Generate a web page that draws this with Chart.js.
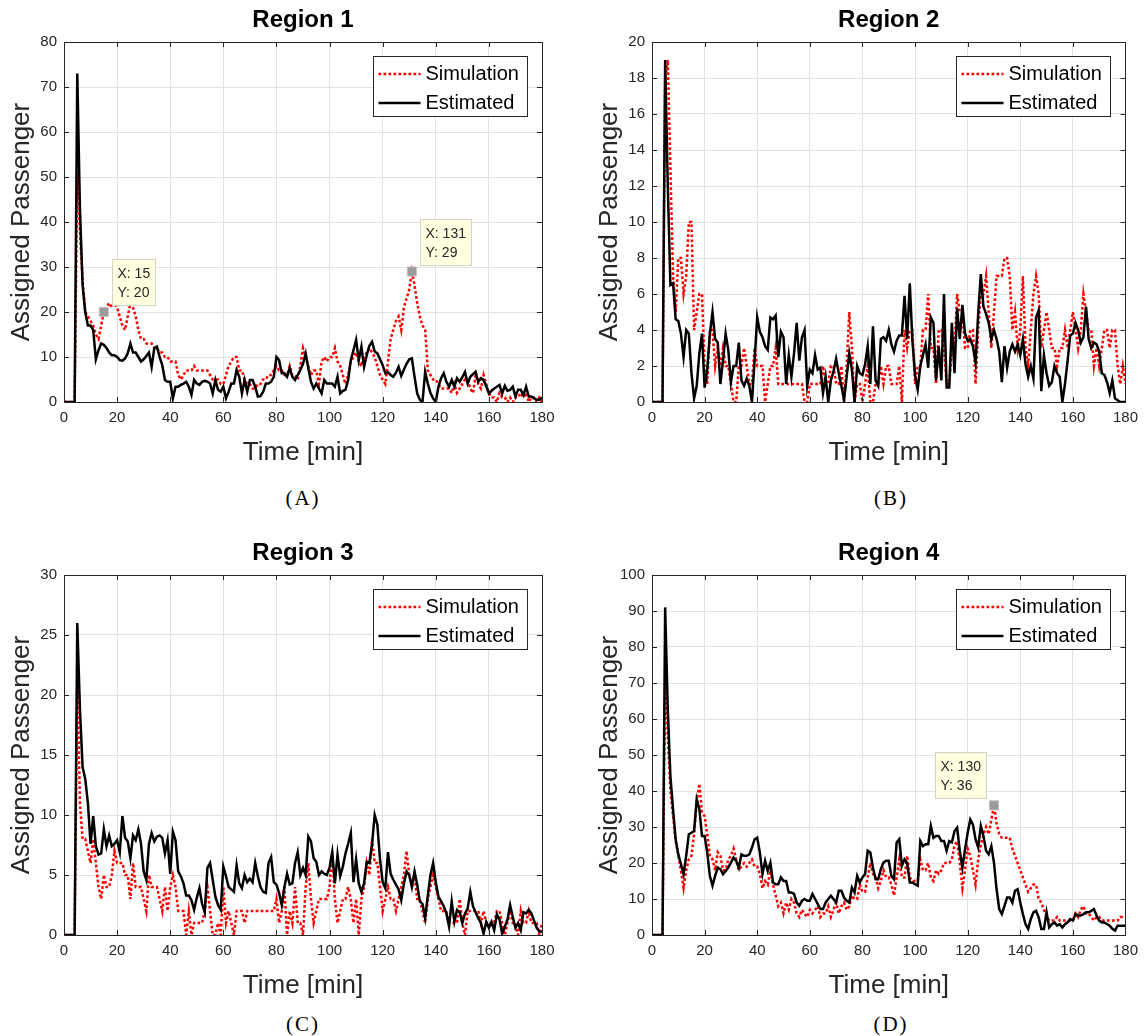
<!DOCTYPE html>
<html>
<head>
<meta charset="utf-8">
<title>Assigned passengers per region</title>
<script src="https://cdn.jsdelivr.net/npm/chart.js@4.4.0/dist/chart.umd.min.js"></script>
<style>
    body { margin: 0; background: #fff; width: 1145px; height: 1036px; position: relative; overflow: hidden; }
    canvas { position: absolute; }
    .caption {
        position: absolute;
        transform: translate(-50%, -50%);
        font-family: "Liberation Serif", "DejaVu Serif", serif;
        font-size: 21px;
        letter-spacing: 2px;
        color: #000;
    }
</style>
</head>
<body>
<canvas id="region1" width="565" height="470" style="left:0px;top:0px"></canvas>
<canvas id="region2" width="557" height="470" style="left:588px;top:0px"></canvas>
<canvas id="region3" width="565" height="470" style="left:0px;top:533px"></canvas>
<canvas id="region4" width="557" height="470" style="left:588px;top:533px"></canvas>
<div class="caption" style="left:303px;top:498px">(A)</div>
<div class="caption" style="left:891px;top:498px">(B)</div>
<div class="caption" style="left:303px;top:1024px">(C)</div>
<div class="caption" style="left:891px;top:1024px">(D)</div>

<script>
// time axis, one sample per minute
const minutes = Array.from({ length: 181 }, (_, i) => i);
const xTickStep = 20;

// Region 1
const sim1 = [
    0, 0, 0, 0, 0, 51, 38, 27, 20, 19,
    18, 17, 15, 14, 17, 20, 21, 22, 21, 22,
    21, 19, 17, 16, 19, 22, 21, 19, 16, 14,
    14, 13, 13, 13, 12, 12, 11, 11, 10, 10,
    9, 9, 9, 6, 5, 6, 7, 7, 7, 8,
    7, 7, 7, 7, 7, 6, 5, 5, 5, 4,
    4, 6, 8, 9, 10, 10, 7, 7, 5, 4,
    4, 3, 3, 4, 4, 5, 5, 6, 6, 7,
    8, 7, 7, 6, 6, 8, 6, 6, 5, 8,
    12, 10, 8, 6, 7, 7, 4, 9, 10, 9,
    10, 10, 12, 9, 8, 6, 4, 6, 9, 10,
    11, 9, 8, 10, 11, 12, 11, 10, 8, 6,
    5, 4, 9, 14, 16, 18, 19, 16, 21, 23,
    25, 29, 26, 22, 19, 17, 16, 7, 6, 5,
    5, 4, 3, 3, 3, 3, 2, 4, 2, 3,
    4, 5, 5, 3, 2, 6, 4, 3, 6, 4,
    2, 1, 1, 0, 2, 1, 1, 0, 1, 0,
    1, 1, 2, 1, 2, 0, 1, 1, 0, 1, 0
];
const est1 = [
    0, 0, 0, 0, 0, 73, 43, 26, 20, 17,
    17, 16, 9.5, 11.5, 13, 12.7, 12, 11, 10.4, 10.4,
    10, 9.3, 9.2, 9.7, 10.8, 13, 11, 11, 10, 9,
    9.5, 10.2, 11, 7.8, 12, 12.3, 10, 8.2, 4.9, 4.5,
    4.5, 0.8, 3.4, 3.4, 3.8, 4.1, 4.5, 3.4, 1.6, 4.9,
    4.1, 3.8, 4.5, 4.7, 4.5, 4.1, 1.9, 4.9, 2.7, 2.3,
    3.4, 0.8, 2.3, 4.1, 4.1, 7.1, 5.6, 1.9, 4.9, 2.3,
    4.9, 4.9, 3.4, 1.2, 1.3, 2.3, 4.1, 4.1, 4.5, 5.6,
    10, 9.3, 6.4, 6.4, 5.6, 7.5, 5.6, 4.9, 6, 7.1,
    8.5, 10.8, 7.5, 4.5, 3, 4.1, 3, 1.9, 4.9, 4.1,
    4.1, 4.1, 3.4, 5.6, 1.9, 2.5, 2.7, 4.9, 9.3, 11.5,
    13.8, 9.3, 12.3, 7.8, 10.4, 12.5, 13.4, 11.2, 10.8, 9.5,
    8.2, 6.4, 6.6, 6, 5.6, 6.5, 7.8, 5.8, 7.2, 8.5,
    9.5, 9.7, 5.6, 1.9, 0.5, 0, 6.7, 4.1, 2, 0.8,
    0, 3.4, 5.3, 6.4, 4.5, 3.4, 4.9, 3.4, 5.3, 4.5,
    5.5, 6.7, 4.1, 5.6, 6.2, 6.7, 4.5, 5.3, 4.9, 3.5,
    1.9, 2.5, 3, 3.4, 3.8, 1.9, 3.6, 2.5, 2.7, 3.4,
    1.2, 2.7, 2.7, 1.5, 3.4, 1.2, 1.2, 0.8, 0.5, 0.5, 1
];
const tips1 = [
    { x: 15, y: 20, side: 'right' },
    { x: 131, y: 29, side: 'right' }
];

// Region 2
const sim2 = [
    0, 0, 0, 0, 0, 18, 19, 13, 7, 5,
    8, 8, 6, 7, 10, 10, 4, 5, 6, 6,
    2, 1, 4, 4, 2, 3, 2, 3, 2, 2,
    1, 0, 0, 2, 2, 3, 2, 1, 1, 3,
    2, 2, 2, 0, 1, 2, 2, 3, 1, 1,
    1, 1, 1, 1, 1, 1, 1, 1, 0, 0,
    1, 1, 1, 1, 1, 2, 1, 1, 2, 2,
    1, 1, 2, 0, 2, 5, 3, 0, 1, 1,
    0, 1, 2, 0, 0, 1, 1, 2, 1, 2,
    2, 1, 1, 1, 2, 0, 4, 3, 4, 4,
    1, 2, 2, 4, 4, 6, 3, 3, 1, 4,
    4, 3, 1, 1, 3, 3, 6, 5, 5, 3,
    3, 4, 4, 1, 4, 6, 6, 7, 5, 3,
    5, 7, 7, 7, 8, 8, 7, 4, 5, 3,
    4, 7, 3, 2, 4, 6, 7, 6, 3, 4,
    5, 4, 3, 3, 2, 3, 3, 4, 3, 4,
    5, 4, 3, 4, 6, 5, 4, 4, 2, 3,
    2, 3, 4, 4, 3, 4, 4, 2, 1, 2, 1
];
const est2 = [
    0, 0, 0, 0, 0, 19, 12, 6.5, 6.6, 4.6,
    4.5, 3.8, 2.5, 4, 3.8, 1.6, 0.2, 0.9, 2.7, 3.8,
    0.8, 1.8, 3.8, 5, 3.5, 3.3, 1, 2.3, 3.8, 2.9,
    1.1, 2, 2, 3.3, 1.2, 0.9, 1.3, 0.9, 0, 2.3,
    4.7, 3.9, 3.6, 3.1, 2.9, 4.7, 4.6, 4.8, 2.5, 3.9,
    3.6, 1, 2.6, 1.4, 2.7, 4.4, 2.3, 3.6, 4, 0.9,
    1.8, 1.6, 2.6, 1.8, 1.9, 0.5, 1.4, 0, 1.2, 1.7,
    2.4, 1.6, 0.9, 0.1, 1.4, 2.7, 1.8, 0, 2, 1.6,
    1.5, 2.1, 3.1, 1, 4.2, 1.2, 0.9, 3.5, 3.6, 3.4,
    4, 3.2, 2.8, 3.4, 3.7, 3.7, 5.9, 3.5, 6.6, 3.4,
    1.5, 0.7, 2, 2.6, 3.2, 1.9, 4.7, 4.4, 1.2, 3.1,
    1.2, 6, 0.8, 0.8, 4.4, 1.6, 5.2, 3.5, 5.4, 3.8,
    3.4, 3.5, 3.1, 2.2, 4.9, 7.1, 5.3, 4.9, 4.4, 3.5,
    4, 3.5, 2.8, 1.1, 3.1, 1.9, 2.8, 3.2, 2.8, 3.2,
    2.6, 3.5, 2.1, 1.4, 2, 1.3, 4.7, 5.1, 0.6, 2.6,
    1.6, 0.9, 1.1, 2, 1.6, 1.4, 0, 1, 2.3, 3.7,
    3.8, 4.4, 4, 3.3, 3.6, 5.3, 3.5, 3, 3.3, 3.2,
    2.8, 1.6, 1.5, 1.1, 0.5, 1.2, 0.2, 0.1, 0, 0, 0
];
const tips2 = [];

// Region 3
const sim3 = [
    0, 0, 0, 0, 0, 22, 11, 8, 8, 7,
    6, 8, 6, 4, 3, 5, 4, 4, 5, 7,
    6, 6, 6, 5, 5, 3, 6, 4, 4, 4,
    3, 2, 5, 4, 4, 4, 3, 2, 4, 2,
    4, 5, 4, 2, 2, 2, 0, 2, 0, 1,
    1, 1, 1, 2, 4, 2, 0, 0, 1, 0,
    4, 1, 2, 1, 0, 2, 2, 2, 1, 2,
    2, 2, 2, 2, 2, 2, 2, 2, 2, 2,
    3, 1, 2, 4, 0, 2, 1, 4, 1, 1,
    0, 4, 6, 3, 1, 2, 3, 3, 3, 3,
    4, 7, 3, 1, 2, 3, 3, 4, 3, 1,
    3, 0, 3, 4, 6, 5, 8, 6, 6, 4,
    2, 3, 4, 3, 3, 2, 3, 4, 5, 7,
    5, 4, 5, 3, 3, 2, 1, 3, 4, 5,
    4, 3, 2, 2, 2, 1, 1, 1, 1, 3,
    1, 0, 2, 2, 2, 2, 2, 1, 2, 1,
    1, 1, 1, 2, 2, 1, 0, 1, 2, 1,
    1, 0, 2, 1, 1, 2, 1, 1, 1, 0, 1
];
const est3 = [
    0, 0, 0, 0, 0, 26, 18.8, 14, 13, 11,
    7.6, 9.9, 7.4, 6.7, 6.8, 8.8, 7.4, 8.3, 7.4, 7.6,
    7.9, 6.9, 9.9, 8.1, 7.8, 6.4, 8.3, 7.9, 8.8, 7.6,
    5.3, 4.6, 7.6, 8.5, 7.8, 8.2, 8.3, 8.1, 6.8, 7.9,
    5.1, 8.6, 7.9, 5.3, 4.9, 4.3, 3.3, 3.3, 2.9, 2.1,
    3.1, 3.9, 2.6, 1.9, 5.6, 6, 4.6, 3.2, 2.5, 2.1,
    5.7, 4.9, 4, 3.8, 3.6, 5.8, 4.3, 3.9, 5, 4.4,
    4.7, 4.4, 6, 4.9, 4, 3.6, 3.5, 6, 6.5, 4.4,
    4.2, 3.5, 2.5, 4, 5.1, 4.2, 4.3, 6, 6.9, 5,
    5.6, 5, 8.2, 7.8, 6.4, 6.1, 5, 5.3, 5.1, 5,
    5.6, 6.9, 4.3, 6.7, 4.9, 5.7, 6.8, 7.6, 8.5, 4.4,
    6.3, 4.3, 3.6, 4.3, 6.1, 6, 7.6, 10, 9.2, 6.3,
    4.4, 3.9, 6.9, 5.1, 4.6, 4.2, 3.8, 2.9, 4.3, 5.3,
    5, 4, 5.3, 4.2, 2.8, 2.6, 1.4, 3.3, 5, 6,
    4.4, 3.2, 2.8, 2.4, 1.8, 0.7, 2.8, 1.1, 2.1, 1.9,
    1, 1.8, 2.2, 3.6, 2.4, 1.9, 1.4, 1, 0.1, 1.1,
    0.6, 1.1, 0.4, 1.7, 1.3, 0.1, 0.7, 1.3, 2.5, 1.5,
    0.6, 1, 0.4, 1.9, 1.8, 2.1, 1.8, 1.2, 0.6, 0.3, 0.3
];
const tips3 = [];

// Region 4
const sim4 = [
    0, 0, 0, 0, 0, 74, 55, 40, 33, 26,
    22, 18, 13, 18, 21, 22, 28, 37, 42, 34,
    33, 28, 22, 21, 18, 23, 22, 18, 18, 21,
    22, 24, 21, 18, 19, 20, 19, 20, 21, 19,
    19, 17, 13, 15, 14, 18, 14, 11, 8, 9,
    6, 9, 7, 10, 9, 6, 5, 7, 6, 5,
    7, 6, 7, 8, 5, 6, 6, 8, 5, 7,
    9, 6, 8, 9, 7, 8, 11, 10, 10, 14,
    12, 12, 16, 20, 17, 16, 13, 15, 18, 16,
    16, 14, 11, 16, 21, 16, 16, 22, 16, 15,
    15, 15, 21, 18, 18, 20, 16, 15, 18, 17,
    18, 20, 20, 20, 21, 25, 26, 20, 13, 18,
    24, 22, 18, 14, 21, 25, 28, 30, 28, 32,
    36, 31, 28, 27, 27, 27, 27, 24, 22, 20,
    18, 16, 14, 12, 13, 14, 14, 10, 9, 7,
    5, 4, 4, 4, 5, 4, 4, 4, 4, 4,
    4, 6, 5, 7, 8, 6, 6, 5, 4, 5,
    5, 4, 4, 4, 4, 4, 4, 4, 5, 5, 5
];
const est4 = [
    0, 0, 0, 0, 0, 91, 62.6, 44, 35, 26.6,
    22.4, 19.7, 16.9, 22, 28, 28.4, 28.9, 37.7, 35, 27.5,
    27.5, 22.9, 16.4, 13.7, 16.4, 18.7, 18.3, 16.9, 17.8, 18.7,
    20.1, 21.5, 20.6, 18.7, 22.4, 22, 22, 22.4, 24.3, 26.6,
    27, 22.9, 16.9, 20.6, 17.8, 20.1, 14.6, 14.1, 14.1, 16,
    15, 15, 11.8, 11.8, 11.4, 9, 8.1, 9.5, 10, 9.5,
    9.5, 11.4, 10, 8.6, 7.2, 7.2, 9, 10, 10.9, 10,
    9, 12.3, 12.3, 10.4, 9.5, 9, 13.2, 11.8, 16.4, 14.6,
    16, 16.9, 23.4, 22.9, 18.7, 15.5, 15.5, 18.3, 20.1, 20.6,
    20.6, 16.4, 15.5, 25.7, 26.6, 19.2, 21, 20, 14.6, 14.6,
    14.1, 13.7, 26.1, 24.7, 25.2, 25.2, 30.3, 27, 27.5, 27.5,
    26.1, 26.1, 23.4, 26.1, 25.7, 28.9, 29.8, 23.4, 18.7, 23.8,
    28.4, 32.1, 30.7, 26.6, 24.3, 30.3, 27.5, 23.4, 22.4, 24.7,
    20.1, 12.7, 7.2, 5.8, 8.1, 10.4, 10.4, 9, 12.3, 12.7,
    9, 5.8, 3, 1.7, 4.4, 6.3, 6.7, 4.9, 1.7, 1.7,
    6.3, 2.1, 3, 3.5, 2.6, 3, 2.1, 3, 3.5, 4.4,
    4, 5.8, 5.4, 5.4, 5.8, 6.3, 6.3, 6.7, 7.2, 5.4,
    4, 3.5, 3.5, 3, 2.6, 1.7, 1.2, 2.6, 2.6, 2.6, 2.6
];
const tips4 = [
    { x: 130, y: 36, side: 'left' }
];

const FONT = '"Liberation Sans", Arial, Helvetica, sans-serif';
const AXIS_COLOR = '#262626';
const GRID_COLOR = '#e2e2e2';

Chart.defaults.font.family = FONT;
Chart.defaults.color = AXIS_COLOR;

// MATLAB-like axes box with inward ticks on all four sides
const axesBox = {
    id: 'axesBox',
    afterDatasetsDraw(chart) {
        const { ctx, chartArea: a, scales: { x, y } } = chart;
        ctx.save();
        ctx.strokeStyle = AXIS_COLOR;
        ctx.lineWidth = 1;
        ctx.beginPath();
        x.ticks.forEach(t => {
            const px = Math.round(x.getPixelForValue(t.value)) + 0.5;
            ctx.moveTo(px, a.bottom);
            ctx.lineTo(px, a.bottom - 5);
            ctx.moveTo(px, a.top);
            ctx.lineTo(px, a.top + 5);
        });
        y.ticks.forEach(t => {
            const py = Math.round(y.getPixelForValue(t.value)) + 0.5;
            ctx.moveTo(a.left, py);
            ctx.lineTo(a.left + 5, py);
            ctx.moveTo(a.right, py);
            ctx.lineTo(a.right - 5, py);
        });
        ctx.stroke();
        ctx.strokeRect(Math.round(a.left) + 0.5, Math.round(a.top) + 0.5,
            Math.round(a.right - a.left), Math.round(a.bottom - a.top));
        ctx.restore();
    }
};

// boxed legend in the upper right corner of the axes
const boxLegend = {
    id: 'boxLegend',
    afterDraw(chart) {
        const { ctx, chartArea: a } = chart;
        const w = 154, h = 60;
        const left = Math.round(a.right - 15 - w) + 0.5;
        const top = Math.round(a.top + 14) + 0.5;
        ctx.save();
        ctx.fillStyle = '#fff';
        ctx.fillRect(left, top, w, h);
        ctx.strokeStyle = AXIS_COLOR;
        ctx.lineWidth = 1;
        ctx.strokeRect(left, top, w, h);
        chart.data.datasets.filter(d => d.inLegend).forEach((d, i) => {
            const cy = top + 17.5 + i * 29;
            ctx.beginPath();
            ctx.strokeStyle = d.borderColor;
            ctx.lineWidth = d.borderWidth;
            ctx.setLineDash(d.borderDash || []);
            ctx.moveTo(left + 5, cy);
            ctx.lineTo(left + 47, cy);
            ctx.stroke();
            ctx.setLineDash([]);
            ctx.fillStyle = '#000';
            ctx.font = '20px ' + FONT;
            ctx.textBaseline = 'middle';
            ctx.textAlign = 'left';
            ctx.fillText(d.label, left + 52, cy);
        });
        ctx.restore();
    }
};

// data tip boxes next to the marked points
function dataTips(tips) {
    return {
        id: 'dataTips',
        afterDraw(chart) {
            const { ctx, scales: { x, y } } = chart;
            ctx.save();
            ctx.font = '14px ' + FONT;
            tips.forEach(tip => {
                const px = x.getPixelForValue(tip.x);
                const py = y.getPixelForValue(tip.y);
                const lines = ['X: ' + tip.x, 'Y: ' + tip.y];
                const w = Math.ceil(Math.max(...lines.map(s => ctx.measureText(s).width))) + 10;
                const h = 46;
                const left = Math.round(tip.side === 'left' ? px - 8 - w : px + 8) + 0.5;
                const top = Math.round(py - 7 - h) + 0.5;
                ctx.fillStyle = '#ffffe1';
                ctx.fillRect(left, top, w, h);
                ctx.strokeStyle = '#d4d4c4';
                ctx.lineWidth = 1;
                ctx.strokeRect(left, top, w, h);
                ctx.fillStyle = AXIS_COLOR;
                ctx.textBaseline = 'middle';
                ctx.textAlign = 'left';
                ctx.fillText(lines[0], left + 5, top + 15);
                ctx.fillText(lines[1], left + 5, top + 34);
            });
            ctx.restore();
        }
    };
}

function makeRegionChart(canvasId, title, sim, est, tips, yMax, yStep, rightPad) {
    const canvas = document.getElementById(canvasId);
    if (!canvas) {
        console.warn('Canvas not found: ' + canvasId);
        return null;
    }

    return new Chart(canvas.getContext('2d'), {
        type: 'line',
        data: {
            labels: minutes,
            datasets: [
                {
                    label: 'Simulation',
                    data: sim,
                    borderColor: '#ff0000',
                    borderWidth: 2.5,
                    borderDash: [2.7, 2.3],
                    pointRadius: 0,
                    tension: 0,
                    inLegend: true,
                    order: 2
                },
                {
                    label: 'Estimated',
                    data: est,
                    borderColor: '#000000',
                    borderWidth: 2.5,
                    pointRadius: 0,
                    tension: 0,
                    inLegend: true,
                    order: 1
                },
                {
                    type: 'scatter',
                    label: 'Data tip',
                    data: tips.map(t => ({ x: t.x, y: t.y })),
                    pointStyle: 'rect',
                    pointRadius: 6.5,
                    backgroundColor: '#9b9b9b',
                    borderColor: '#c4c4c4',
                    borderWidth: 1,
                    order: 0
                }
            ]
        },
        options: {
            responsive: false,
            animation: false,
            devicePixelRatio: 1,
            layout: { padding: { left: 0, right: rightPad, top: 0, bottom: 0 } },
            plugins: {
                legend: { display: false },
                tooltip: { enabled: false },
                title: {
                    display: true,
                    text: title,
                    color: '#000',
                    fullSize: false,
                    font: { size: 24, weight: 'bold' },
                    padding: { top: 6, bottom: 7.2 }
                }
            },
            scales: {
                x: {
                    type: 'linear',
                    min: 0,
                    max: 180,
                    grid: { color: GRID_COLOR, drawTicks: false },
                    border: { display: false },
                    ticks: {
                        stepSize: xTickStep,
                        autoSkip: false,
                        maxRotation: 0,
                        padding: 7,
                        color: AXIS_COLOR,
                        font: { size: 15 }
                    },
                    title: {
                        display: true,
                        text: 'Time [min]',
                        color: AXIS_COLOR,
                        font: { size: 26 },
                        padding: { top: 0, bottom: 2 }
                    },
                    afterFit: scale => { scale.height = 68; }
                },
                y: {
                    type: 'linear',
                    min: 0,
                    max: yMax,
                    grid: { color: GRID_COLOR, drawTicks: false },
                    border: { display: false },
                    ticks: {
                        stepSize: yStep,
                        padding: 7,
                        color: AXIS_COLOR,
                        font: { size: 15 }
                    },
                    title: {
                        display: true,
                        text: 'Assigned Passenger',
                        color: AXIS_COLOR,
                        font: { size: 26 },
                        padding: { top: 6, bottom: 0 }
                    },
                    afterFit: scale => { scale.width = 64; }
                }
            }
        },
        plugins: [axesBox, dataTips(tips), boxLegend]
    });
}

makeRegionChart('region1', 'Region 1', sim1, est1, tips1, 80, 10, 23);
makeRegionChart('region2', 'Region 2', sim2, est2, tips2, 20, 2, 16);
makeRegionChart('region3', 'Region 3', sim3, est3, tips3, 30, 5, 23);
makeRegionChart('region4', 'Region 4', sim4, est4, tips4, 100, 10, 16);
</script>
</body>
</html>
